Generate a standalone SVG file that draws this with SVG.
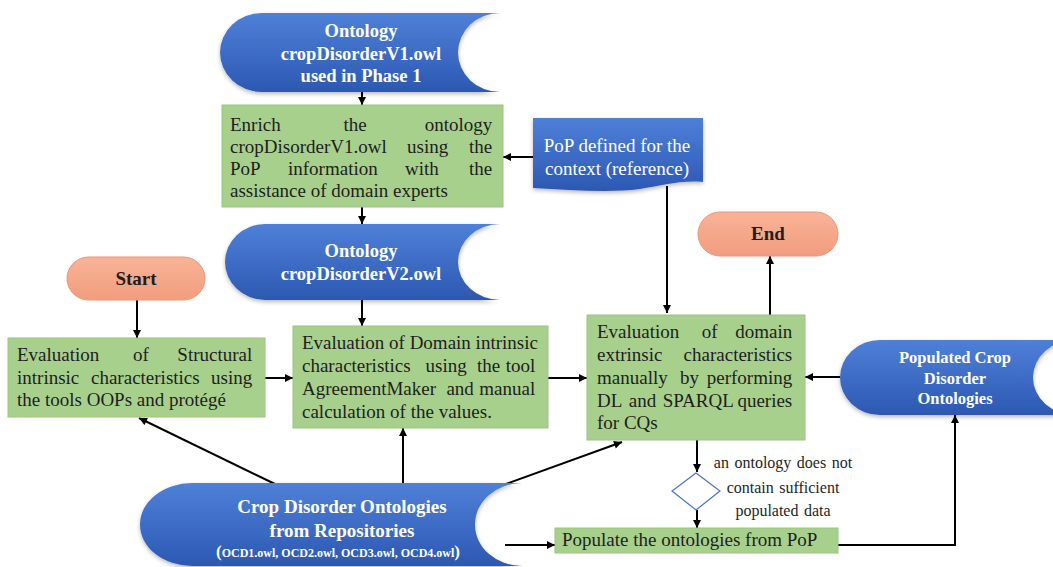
<svg xmlns="http://www.w3.org/2000/svg" width="1053" height="567" viewBox="0 0 1053 567">
  <defs>
    <linearGradient id="blueFill" x1="0" y1="0" x2="0" y2="1">
      <stop offset="0" stop-color="#4F80D8"/>
      <stop offset="1" stop-color="#2C58B2"/>
    </linearGradient>
    <linearGradient id="salmonFill" x1="0" y1="0" x2="0" y2="1">
      <stop offset="0" stop-color="#F8B397"/>
      <stop offset="1" stop-color="#F29D7E"/>
    </linearGradient>
    <filter id="softShadow" x="-10%" y="-10%" width="120%" height="130%">
      <feDropShadow dx="0" dy="2" stdDeviation="2" flood-color="#000" flood-opacity="0.28"/>
    </filter>
    <marker id="arrow" viewBox="0 0 10 10" refX="10" refY="5" markerWidth="9" markerHeight="8" markerUnits="userSpaceOnUse" orient="auto">
      <path d="M0,0 L10,5 L0,10 Z" fill="#000"/>
    </marker>
  </defs>
  <style>
    .store { fill: url(#blueFill); filter: url(#softShadow); }
    .doc { fill: url(#blueFill); filter: url(#softShadow); }
    .proc { fill: #A8D08D; stroke: #9AC67E; stroke-width: 1; }
    .term { fill: url(#salmonFill); stroke: #EC9577; stroke-width: 1; }
    .decision { fill: #FFFFFF; stroke: #4A72C0; stroke-width: 1.2; }
    .title { font-family: "Liberation Serif", "Times New Roman", serif; font-weight: bold; font-size: 18.5px; fill: #FFFFFF; text-anchor: middle; }
    .body { font-family: "Liberation Serif", "Times New Roman", serif; font-size: 19px; fill: #1E1E1E; }
    .docText { font-family: "Liberation Serif", "Times New Roman", serif; font-size: 19px; fill: #FFFFFF; text-anchor: middle; }
    .termText { font-family: "Liberation Serif", "Times New Roman", serif; font-weight: bold; font-size: 19px; fill: #1E1E1E; text-anchor: middle; }
    .note { font-family: "Liberation Serif", "Times New Roman", serif; font-size: 16px; fill: #1E1E1E; text-anchor: middle; word-spacing: 1.5px; }
    .e { text-anchor: end; }
    .m { text-anchor: middle; }
    .conn { fill: none; stroke: #000; stroke-width: 2; marker-end: url(#arrow); }
  </style>

  <!-- connectors -->
  <g id="connectors">
    <line class="conn" x1="362" y1="92" x2="362" y2="105"/>
    <line class="conn" x1="533" y1="157" x2="503" y2="157"/>
    <line class="conn" x1="362" y1="207" x2="362" y2="224"/>
    <line class="conn" x1="362" y1="300" x2="362" y2="326"/>
    <line class="conn" x1="667" y1="186" x2="667" y2="313"/>
    <line class="conn" x1="137" y1="300" x2="137" y2="338"/>
    <line class="conn" x1="265" y1="378" x2="293" y2="378"/>
    <line class="conn" x1="548" y1="378" x2="587" y2="378"/>
    <line class="conn" x1="770" y1="315" x2="770" y2="256"/>
    <line class="conn" x1="840" y1="377" x2="805" y2="377"/>
    <line class="conn" x1="697" y1="440" x2="697" y2="472"/>
    <line class="conn" x1="697" y1="510" x2="697" y2="528"/>
    <line class="conn" x1="275" y1="484" x2="139" y2="418"/>
    <line class="conn" x1="403" y1="483" x2="403" y2="428"/>
    <line class="conn" x1="503" y1="485" x2="622" y2="442"/>
    <line class="conn" x1="505" y1="545" x2="555" y2="545"/>
    <polyline class="conn" points="838,545 955,545 955,415"/>
  </g>

  <!-- stored ontology V1 -->
  <g id="ontologyV1">
    <path class="store" d="M262 13 L500 13 A42 39.5 0 0 0 500 92 L262 92 A42 39.5 0 0 1 262 13 Z"/>
    <text class="title" x="361" y="37">Ontology</text>
    <text class="title" x="361" y="60">cropDisorderV1.owl</text>
    <text class="title" x="361" y="82">used in Phase 1</text>
  </g>

  <!-- enrich step -->
  <g id="enrich">
    <rect class="proc" x="222" y="105" width="281" height="102"/>
    <text class="body">
      <tspan x="230" y="131">Enrich</tspan><tspan x="343.5" y="131">the</tspan><tspan class="e" x="497" y="131">ontology</tspan>
      <tspan x="230" y="153">cropDisorderV1.owl</tspan><tspan x="407" y="153">using</tspan><tspan class="e" x="497" y="153">the</tspan>
      <tspan x="230" y="175">PoP</tspan><tspan x="288" y="175">information</tspan><tspan x="405" y="175">with</tspan><tspan class="e" x="497" y="175">the</tspan>
      <tspan x="230" y="197">assistance of domain experts</tspan>
    </text>
  </g>

  <!-- PoP document -->
  <g id="popDoc">
    <path class="doc" d="M533 118 H703 V182 C680 180 660 186 640 189 C610 193 570 190 533 188 Z"/>
    <text class="docText" x="617" y="152">PoP defined for the</text>
    <text class="docText" x="617" y="175">context (reference)</text>
  </g>

  <!-- stored ontology V2 -->
  <g id="ontologyV2">
    <path class="store" d="M265 224 L500 224 A42 38 0 0 0 500 300 L265 300 A40 38 0 0 1 265 224 Z"/>
    <text class="title" x="361" y="257">Ontology</text>
    <text class="title" x="361" y="280">cropDisorderV2.owl</text>
  </g>

  <!-- start terminal -->
  <g id="start">
    <rect class="term" x="67" y="257" width="138" height="43" rx="21.5"/>
    <text class="termText" x="136" y="285">Start</text>
  </g>

  <!-- end terminal -->
  <g id="end">
    <rect class="term" x="698" y="212" width="140" height="44" rx="22"/>
    <text class="termText" x="768" y="240">End</text>
  </g>

  <!-- structural evaluation -->
  <g id="structural">
    <rect class="proc" x="8" y="338" width="257" height="79"/>
    <text class="body">
      <tspan x="17" y="361">Evaluation</tspan><tspan x="133" y="361">of</tspan><tspan class="e" x="257" y="361">Structural</tspan>
      <tspan x="17" y="384">intrinsic</tspan><tspan x="91" y="384">characteristics</tspan><tspan class="e" x="257" y="384">using</tspan>
      <tspan x="17" y="406">the tools OOPs and protégé</tspan>
    </text>
  </g>

  <!-- domain intrinsic evaluation -->
  <g id="domainIntrinsic">
    <rect class="proc" x="293" y="326" width="255" height="102"/>
    <text class="body">
      <tspan x="302" y="349">Evaluation of Domain intrinsic</tspan>
      <tspan x="302" y="372">characteristics</tspan><tspan x="425.6" y="372">using</tspan><tspan x="477" y="372">the</tspan><tspan class="e" x="540" y="372">tool</tspan>
      <tspan x="302" y="395">AgreementMaker</tspan><tspan x="446.4" y="395">and</tspan><tspan class="e" x="540" y="395">manual</tspan>
      <tspan x="302" y="418">calculation of the values.</tspan>
    </text>
  </g>

  <!-- domain extrinsic evaluation -->
  <g id="domainExtrinsic">
    <rect class="proc" x="587" y="315" width="218" height="125"/>
    <text class="body">
      <tspan x="597" y="338">Evaluation</tspan><tspan x="701.8" y="338">of</tspan><tspan class="e" x="797" y="338">domain</tspan>
      <tspan x="597" y="361">extrinsic</tspan><tspan class="e" x="797" y="361">characteristics</tspan>
      <tspan x="597" y="384">manually</tspan><tspan x="680" y="384">by</tspan><tspan class="e" x="797" y="384">performing</tspan>
      <tspan x="597" y="407">DL</tspan><tspan x="628.8" y="407">and</tspan><tspan x="662.7" y="407">SPARQL</tspan><tspan class="e" x="797" y="407">queries</tspan>
      <tspan x="597" y="429">for CQs</tspan>
    </text>
  </g>

  <!-- populated ontologies store -->
  <g id="populatedStore">
    <path class="store" d="M880 340 L1075 340 A42 37.5 0 0 0 1075 415 L880 415 A40 37.5 0 0 1 880 340 Z"/>
    <text class="title" x="955" y="363" style="font-size:16.5px">Populated Crop</text>
    <text class="title" x="955" y="384" style="font-size:16.5px">Disorder</text>
    <text class="title" x="955" y="404" style="font-size:16.5px">Ontologies</text>
  </g>

  <!-- decision -->
  <g id="decision">
    <polygon class="decision" points="696,473 720,491 696,510 672,491"/>
    <text class="note" x="783" y="468">an ontology does not</text>
    <text class="note" x="783" y="493">contain sufficient</text>
    <text class="note" x="783" y="516">populated data</text>
  </g>

  <!-- populate step -->
  <g id="populate">
    <rect class="proc" x="555" y="528" width="283" height="25"/>
    <text class="body" x="562" y="546">Populate the ontologies from PoP</text>
  </g>

  <!-- repository ontologies store -->
  <g id="repositoryStore">
    <path class="store" d="M192 483 L522 483 A47 41.5 0 0 0 522 566 L192 566 A52 41.5 0 0 1 192 483 Z"/>
    <text class="title" x="342" y="513" style="font-size:19px">Crop Disorder Ontologies</text>
    <text class="title" x="342" y="537" style="font-size:19px">from Repositories</text>
    <text class="title" x="338" y="557" style="font-size:12px"><tspan style="font-size:17px">(</tspan>OCD1.owl, OCD2.owl, OCD3.owl, OCD4.owl<tspan style="font-size:17px">)</tspan></text>
  </g>
</svg>
